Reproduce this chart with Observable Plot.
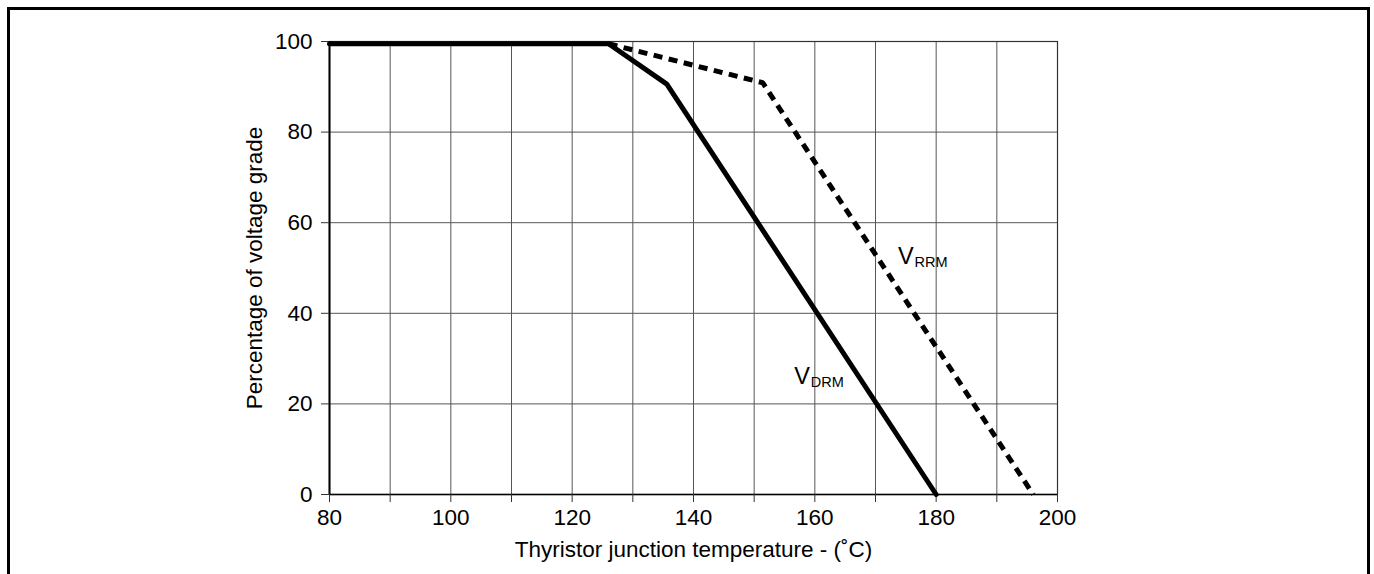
<!DOCTYPE html>
<html>
<head>
<meta charset="utf-8">
<script src="https://cdn.jsdelivr.net/npm/d3@7"></script>
<script src="https://cdn.jsdelivr.net/npm/@observablehq/plot@0.6"></script>
<style>
  html, body { margin: 0; padding: 0; background: #fff; overflow: hidden; }
  #wrap { position: relative; width: 1374px; height: 574px; }
  #frame { position: absolute; left: 7px; top: 7px; width: 1357px; height: 620px; border: 3px solid #000; box-sizing: content-box; pointer-events: none; }
  svg { font-family: "Liberation Sans", Arial, sans-serif; }
</style>
</head>
<body>
<div id="wrap"><div id="frame"></div><div id="chart"></div></div>
<script>
// V_DRM curve (solid)
const vdrmTemp = [80, 126, 135.6, 180];
const vdrmPct  = [99.5, 99.5, 90.6, 0];
// V_RRM curve (dashed)
const vrrmTemp = [126, 151.4, 196];
const vrrmPct  = [99.5, 90.9, 0];
// tick values
const xTicks = [80, 90, 100, 110, 120, 130, 140, 150, 160, 170, 180, 190, 200];
const xLabels = [80, 100, 120, 140, 160, 180, 200];
const yTicks = [0, 20, 40, 60, 80, 100];
// curve labels
const labelNames = ["V", "V"];
const labelSubs = ["DRM", "RRM"];
const labelTemp = [156.6, 173.7];
const labelPct = [26.1, 52.5];

const vdrm = vdrmTemp.map((t, i) => ({t, p: vdrmPct[i]}));
const vrrm = vrrmTemp.map((t, i) => ({t, p: vrrmPct[i]}));
const labels = labelNames.map((n, i) => ({n, s: labelSubs[i], t: labelTemp[i], p: labelPct[i]}));

const plot = Plot.plot({
  width: 1374,
  height: 574,
  marginLeft: 329,
  marginRight: 317,
  marginTop: 41,
  marginBottom: 80,
  style: {fontFamily: "'Liberation Sans', Arial, sans-serif", fontSize: "22.5px", color: "#000", background: "transparent"},
  x: {domain: [80, 200]},
  y: {domain: [0, 100]},
  marks: [
    Plot.gridX(xTicks, {stroke: "#555", strokeOpacity: 1, strokeWidth: 1}),
    Plot.gridY(yTicks, {stroke: "#555", strokeOpacity: 1, strokeWidth: 1}),
    Plot.frame({stroke: "#333", strokeWidth: 1.2}),
    Plot.ruleX([80], {stroke: "#000", strokeWidth: 2}),
    Plot.ruleY([0], {stroke: "#000", strokeWidth: 1.5}),
    Plot.axisX(xTicks, {tickSize: 8, tickPadding: 7, stroke: "#333", fontSize: 22.5,
      tickFormat: d => xLabels.includes(d) ? String(d) : "",
      label: "Thyristor junction temperature - (˚C)", labelAnchor: "center", labelArrow: "none", labelOffset: 62}),
    Plot.axisY(yTicks, {tickSize: 8, tickPadding: 9, stroke: "#333", fontSize: 22.5,
      label: "Percentage of voltage grade", labelAnchor: "center", labelArrow: "none", labelOffset: 83}),
    Plot.line(vrrm, {x: "t", y: "p", stroke: "#000", strokeWidth: 5, strokeDasharray: "9,6.5", strokeLinecap: "butt"}),
    Plot.line(vdrm, {x: "t", y: "p", stroke: "#000", strokeWidth: 5, strokeLinejoin: "miter"}),
    Plot.text(labels, {x: "t", y: "p", text: "n", textAnchor: "start", fontSize: 23.5, fill: "#000"}),
    Plot.text(labels, {x: "t", y: "p", text: "s", textAnchor: "start", fontSize: 14.5, fill: "#000", dx: 16.5, dy: 6})
  ]
});
document.getElementById("chart").appendChild(plot);
</script>
</body>
</html>
